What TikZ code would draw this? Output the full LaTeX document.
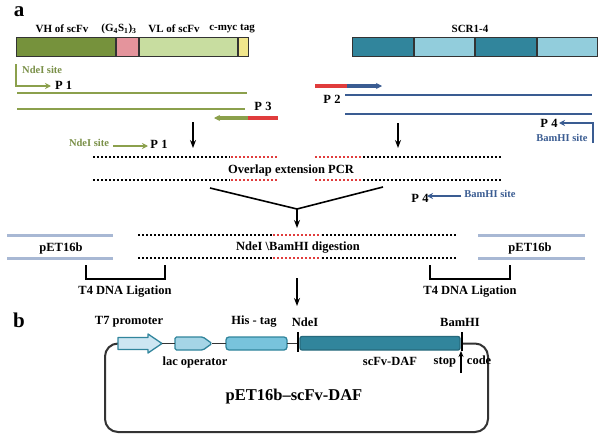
\documentclass[tikz,border=0pt]{standalone}
\usepackage{fontspec}
\setmainfont{Liberation Serif}
\usetikzlibrary{arrows.meta}
\definecolor{vhg}{HTML}{76923C}
\definecolor{pinkg}{HTML}{E4949C}
\definecolor{vlg}{HTML}{C8DDA0}
\definecolor{mycy}{HTML}{F0E68C}
\definecolor{tealdk}{HTML}{31859C}
\definecolor{teallt}{HTML}{92CDDC}
\definecolor{olivel}{HTML}{8BA04C}
\definecolor{olivet}{HTML}{7A9048}
\definecolor{navyl}{HTML}{3A5C92}
\definecolor{petl}{HTML}{A8B8D4}
\definecolor{redp}{HTML}{E03C3C}
\definecolor{tsevfill}{HTML}{CDE6F2}
\definecolor{lacfill}{HTML}{A5D5E6}
\definecolor{hisfill}{HTML}{78C3DC}
\definecolor{edge}{HTML}{333333}
\tikzset{
  lab/.style={font=\bfseries\fontsize{12.5}{14}\selectfont, inner sep=0pt},
  toplab/.style={font=\bfseries\fontsize{11}{13}\selectfont, inner sep=0pt},
  smalllab/.style={font=\bfseries\fontsize{10.5}{12}\selectfont, inner sep=0pt},
  panel/.style={font=\bfseries\fontsize{21}{24}\selectfont, inner sep=0pt},
  seg/.style={draw=edge, line width=1pt, minimum height=19pt, inner sep=0pt, anchor=west},
  olivestrand/.style={draw=olivel, line width=1.9pt},
  bluestrand/.style={draw=navyl, line width=1.9pt},
  primerg/.style={draw=olivel, line width=3.2pt},
  primerb/.style={draw=navyl, line width=3.2pt},
  primerr/.style={draw=redp, line width=3.2pt},
  dotb/.style={draw=black, line width=2.2pt, dash pattern=on 2pt off 2pt},
  dotr/.style={draw=redp, line width=2.2pt, dash pattern=on 2pt off 2pt},
  petline/.style={draw=petl, line width=3pt},
  downarrow/.style={draw=black, line width=1.6pt, -{Stealth[length=8pt,width=6pt]}},
  bracket/.style={draw=black, line width=1.6pt},
  plasmid/.style={draw=edge, line width=2pt},
  element/.style={draw=tealdk, line width=1.3pt},
  headg/.style={-{Stealth[length=6pt,width=6pt]}},
}
\begin{document}
\begin{tikzpicture}[x=1pt,y=-1pt]
\useasboundingbox (0,0) rectangle (600,439);
\fill[white] (0,0) rectangle (600,439);

% ---------- panel a ----------
\node[panel] (pa) at (19,12) {a};

% top bars
\node[toplab] (lvh) at (62,29) {VH of scFv};
\node[toplab] (lgs) at (119,29) {(G\textsubscript{4}S\textsubscript{1})\textsubscript{3}};
\node[toplab] (lvl) at (174,29) {VL of scFv};
\node[toplab] (lmyc) at (232,29) {c-myc tag};
\node[seg, fill=vhg, minimum width=99pt] (vh) at (16,46.5) {};
\node[seg, fill=pinkg, minimum width=22pt] (gs) at (vh.east) {};
\node[seg, fill=vlg, minimum width=98pt] (vl) at (gs.east) {};
\node[seg, fill=mycy, minimum width=10pt] (myc) at (vl.east) {};

\node[toplab] (lscr) at (470,29) {SCR1-4};
\node[seg, fill=tealdk, minimum width=60.5pt] (s1) at (352,46.5) {};
\node[seg, fill=teallt, minimum width=60.5pt] (s2) at (s1.east) {};
\node[seg, fill=tealdk, minimum width=60.5pt] (s3) at (s2.east) {};
\node[seg, fill=teallt, minimum width=60.5pt] (s4) at (s3.east) {};

% left template strands
\coordinate (pone0) at (16,64);
\coordinate (pone1) at (51,86);
\draw[olivestrand, line width=2.2pt, headg] (pone0) |- (pone1);
\node[smalllab, text=olivet, anchor=west] (nde1) at (22,70) {NdeI site};
\node[lab, anchor=west] (p1a) at (55,85) {P 1};
\coordinate (la1) at (17,93); \coordinate (la2) at (247,93);
\draw[olivestrand] (la1) -- (la2);
\coordinate (lb1) at (17,109); \coordinate (lb2) at (245,109);
\draw[olivestrand] (lb1) -- (lb2);
\node[lab] (p3) at (263,106) {P 3};
\coordinate (p3a) at (214,118); \coordinate (p3b) at (248,118); \coordinate (p3c) at (278,118);
\draw[primerr] (p3b) -- (p3c);
\draw[primerg, headg] (p3b) -- (p3a);

% right template strands
\coordinate (p2a) at (315,86); \coordinate (p2b) at (347,86); \coordinate (p2c) at (382,86);
\draw[primerr] (p2a) -- (p2b);
\draw[primerb, headg] (p2b) -- (p2c);
\node[lab] (p2) at (332,99) {P 2};
\coordinate (ra1) at (345,95); \coordinate (ra2) at (592,95);
\draw[bluestrand] (ra1) -- (ra2);
\coordinate (rb1) at (345,114); \coordinate (rb2) at (592,114);
\draw[bluestrand] (rb1) -- (rb2);
\node[lab] (p4a) at (549,123) {P 4};
\coordinate (pfour0) at (593,143);
\coordinate (pfour1) at (559,123);
\draw[bluestrand, line width=2.2pt, headg] (pfour0) |- (pfour1);
\node[smalllab, text=navyl] (bam1) at (562,138) {BamHI site};

% arrows down
\coordinate (dl0) at (193,122); \coordinate (dl1) at (193,148);
\draw[downarrow] (dl0) -- (dl1);
\coordinate (dr0) at (398,123); \coordinate (dr1) at (398,148);
\draw[downarrow] (dr0) -- (dr1);

% overlap PCR
\node[smalllab, text=olivet] (nde2) at (89,143) {NdeI site};
\coordinate (pp0) at (113,146); \coordinate (pp1) at (148,146);
\draw[primerg, line width=2.8pt, headg] (pp0) -- (pp1);
\node[lab] (p1b) at (159,144) {P 1};

\draw[dotb] (93,157) -- (230,157);
\draw[dotr] (231,157) -- (278,157);
\draw[dotb] (93,180) -- (230,180);
\draw[dotr] (231,180) -- (278,180);
\draw[dotr] (315,157) -- (362,157);
\draw[dotb] (363,157) -- (501,157);
\draw[dotr] (315,180) -- (362,180);
\draw[dotb] (363,180) -- (501,180);
\node[lab] (olap) at (291,170) {Overlap extension PCR};

\node[lab] (p4b) at (420,198) {P 4};
\coordinate (qq0) at (461,196); \coordinate (qq1) at (427,196);
\draw[primerb, line width=2.8pt, headg] (qq0) -- (qq1);
\node[smalllab, text=navyl] (bam2) at (490,194) {BamHI site};

% converge
\coordinate (cl) at (210,188); \coordinate (cr) at (383,187); \coordinate (cm) at (297,209);
\draw[black, line width=1.6pt] (cl) -- (cm) -- (cr);
\coordinate (cm1) at (297,228);
\draw[downarrow] (cm) -- (cm1);

% digestion
\draw[dotb] (138,235) -- (272,235);
\draw[dotr] (273,235) -- (321,235);
\draw[dotb] (322,235) -- (457,235);
\draw[dotb] (138,258) -- (272,258);
\draw[dotr] (273,258) -- (321,258);
\draw[dotb] (322,258) -- (457,258);
\node[lab] (dig) at (298,248) {NdeI \textbackslash BamHI digestion};

\draw[petline] (7,235) -- (113,235);
\draw[petline] (7,258) -- (113,258);
\node[lab] (petL) at (61,248) {pET16b};
\draw[petline] (478,235) -- (585,235);
\draw[petline] (478,258) -- (585,258);
\node[lab] (petR) at (530,248) {pET16b};

\draw[bracket] (86,265) |- (165,279) -- (165,265);
\node[lab] (ligL) at (125,292) {T4 DNA Ligation};
\draw[bracket] (430,265) |- (510,279) -- (510,265);
\node[lab] (ligR) at (470,292) {T4 DNA Ligation};

\coordinate (da0) at (297,278); \coordinate (da1) at (297,306);
\draw[downarrow] (da0) -- (da1);

% ---------- panel b ----------
\node[panel] (pb) at (19,320) {b};
\node[lab] (lt7) at (129,322) {T7 promoter};
\node[lab] (lhis) at (254,322) {His - tag};
\node[lab] (lnde) at (305,322) {NdeI};
\node[lab] (lbam) at (460,322) {BamHI};

% plasmid backbone
\coordinate (t7w) at (118,343.5);
\coordinate (bamk) at (462,343.5);
\draw[plasmid, rounded corners=13pt] (t7w) -- (105,343.5) -- (105,432) -- (488,432) -- (488,343.5) -- (bamk);

% elements
\draw[element, fill=tsevfill, line join=round] (118,337.5) -- (148,337.5) -- (148,334) -- (162,343.5) -- (148,353) -- (148,349.5) -- (118,349.5) -- cycle;
\coordinate (t7e) at (162,343.5);
\draw[element, fill=lacfill, rounded corners=1.5pt] (175,337) -- (203,337) -- (212,343.5) -- (203,350) -- (175,350) -- cycle;
\coordinate (lacw) at (175,343.5); \coordinate (lace) at (212,343.5);
\draw[element, fill=hisfill, rounded corners=3pt] (226,337) rectangle (287,350);
\coordinate (hisw) at (226,343.5); \coordinate (hise) at (287,343.5);
\coordinate (ndek) at (298,343.5);
\draw[plasmid, line width=1.5pt] (t7e) -- (lacw);
\draw[plasmid, line width=1.5pt] (lace) -- (hisw);
\draw[plasmid, line width=1.5pt] (hise) -- (ndek);
\draw[black, line width=2.2pt] (298,332) -- (298,352);
\draw[draw=tealdk!80!black, line width=1.3pt, fill=tealdk, rounded corners=2pt] (300,336.5) rectangle (460,350);
\draw[black, line width=2.2pt] (462,332) -- (462,351);
\coordinate (st0) at (461,373); \coordinate (st1) at (461,351);
\draw[black, line width=1.4pt, -{Stealth[length=6pt,width=5pt]}] (st0) -- (st1);

\node[lab] (llac) at (195,362) {lac operator};
\node[lab] (lscfv) at (390,361) {scFv-DAF};
\node[lab] (lstop) at (462.5,361) {stop\hspace{11pt}code};
\node[font=\bfseries\fontsize{16.5}{19}\selectfont, inner sep=0pt] (ltitle) at (294,397) {pET16b–scFv-DAF};
\end{tikzpicture}
\end{document}
